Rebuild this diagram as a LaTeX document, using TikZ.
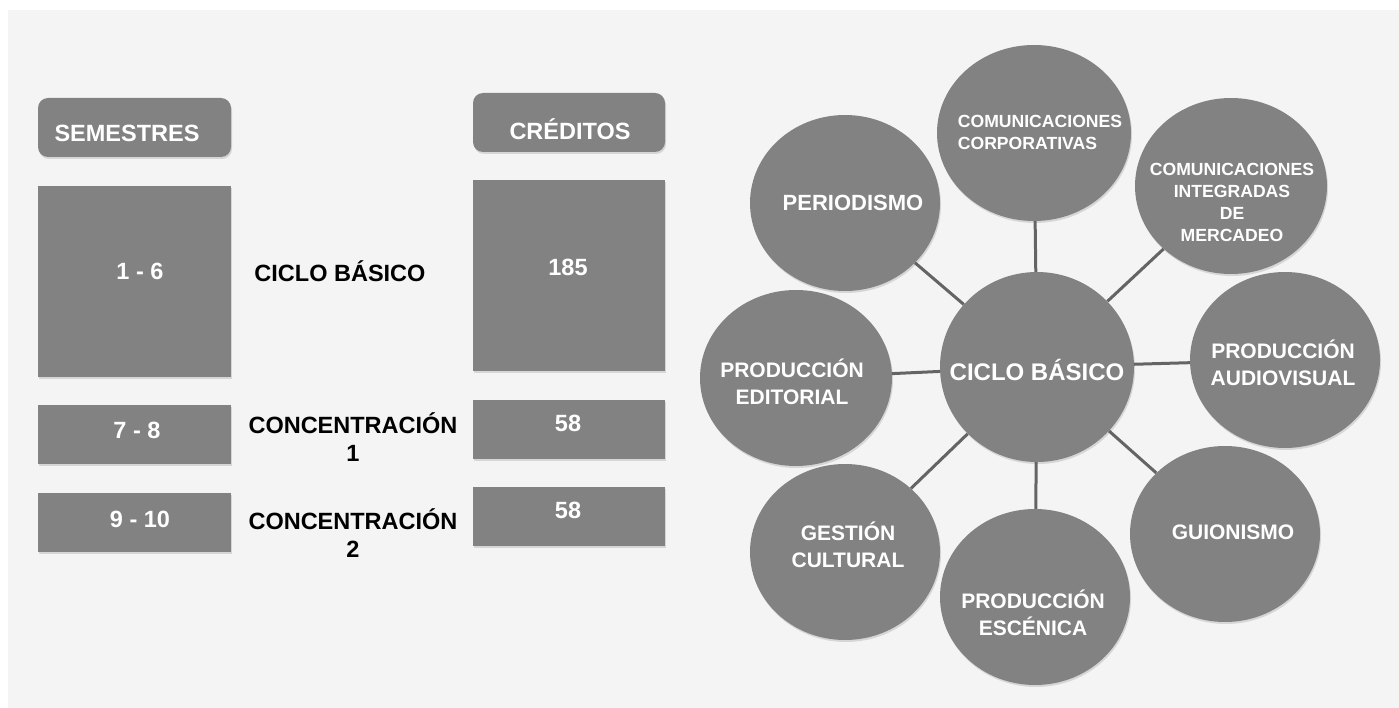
\documentclass[tikz,border=0pt]{standalone}
\usepackage{fontspec}
\setmainfont{Liberation Sans}
\usetikzlibrary{shapes.geometric,shadows}

\definecolor{boxgray}{RGB}{130,130,130}
\definecolor{linkgray}{RGB}{100,100,100}
\definecolor{bggray}{RGB}{244,244,244}

\begin{document}
\begin{tikzpicture}[x=1pt, y=-1pt,
  every node/.style={font=\bfseries},
  softshadow/.style={drop shadow={opacity=0.25, shadow xshift=1pt, shadow yshift=-2pt}},
  cell/.style={fill=boxgray, inner sep=0pt, softshadow, minimum width=193pt},
  head/.style={cell, rounded corners=10pt, minimum height=59pt},
  celltext/.style={text=white, font=\bfseries\fontsize{23.5}{28}\selectfont, align=center},
  sidetext/.style={text=black, font=\bfseries\fontsize{23.5}{28}\selectfont, align=center},
  bubble/.style={ellipse, fill=boxgray, inner sep=0pt, softshadow, minimum width=190pt, minimum height=176pt},
  bubtext/.style={text=white, font=\bfseries\fontsize{21}{27}\selectfont, align=center},
  smalltext/.style={text=white, font=\bfseries\fontsize{17.6}{22}\selectfont},
  link/.style={draw=linkgray, line width=3pt}]
	\useasboundingbox (0,0) rectangle (1399,708);
	\fill[white] (0,0) rectangle (1399,708);
	\fill[bggray] (8,10) rectangle (1399,708);
	% semesters and credits
	\node[head] (sem) at (134.5,127.5) {};
	\node[celltext] (sem-t) at (127,133) {SEMESTRES};
	\node[head, minimum width=192pt] (cred) at (569,122.5) {};
	\node[celltext] (cred-t) at (570,129) {CRÉDITOS};
	\node[cell, minimum height=191pt] (s16) at (134.5,281.5) {};
	\node[celltext] (s16-t) at (140,271) {1 - 6};
	\node[cell, minimum width=192pt, minimum height=191pt] (c185) at (569,275.5) {};
	\node[celltext] (c185-t) at (568,267) {185};
	\node[cell, minimum height=59pt] (s78) at (134.5,434.5) {};
	\node[celltext] (s78-t) at (137,430) {7 - 8};
	\node[cell, minimum width=192pt, minimum height=59pt] (c58a) at (569,429.5) {};
	\node[celltext] (c58a-t) at (568,423) {58};
	\node[cell, minimum height=59pt] (s910) at (134.5,522.5) {};
	\node[celltext] (s910-t) at (140,519) {9 - 10};
	\node[cell, minimum width=192pt, minimum height=59pt] (c58b) at (569,516.5) {};
	\node[celltext] (c58b-t) at (568,510) {58};
	\node[sidetext] (basic) at (340,271) {CICLO BÁSICO};
	\node[sidetext] (conc1) at (353,437) {CONCENTRACIÓN\\1};
	\node[sidetext] (conc2) at (353,533) {CONCENTRACIÓN\\2};
	% concentrations around the basic cycle
	\node[bubble, minimum width=194pt, minimum height=190pt] (cb) at (1037,367) {};
	\node[bubtext, font=\bfseries\fontsize{24}{28}\selectfont] (cb-t) at (1037,370) {CICLO BÁSICO};
	\node[bubble] (peri) at (845,203) {};
	\node[bubtext, font=\bfseries\fontsize{22}{27}\selectfont] (peri-t) at (853,203) {PERIODISMO};
	\node[bubble, minimum width=194pt] (corp) at (1034,133) {};
	\node[smalltext, align=left] (corp-t) at (1040,132) {COMUNICACIONES\\CORPORATIVAS};
	\node[bubble, minimum width=192pt] (integ) at (1231,186) {};
	\node[smalltext, align=center] (integ-t) at (1232,202) {COMUNICACIONES\\INTEGRADAS\\DE\\MERCADEO};
	\node[bubble] (audio) at (1285,360) {};
	\node[bubtext] (audio-t) at (1283,363) {PRODUCCIÓN\\AUDIOVISUAL};
	\node[bubble, minimum width=192pt] (edit) at (796,378) {};
	\node[bubtext] (edit-t) at (792,382) {PRODUCCIÓN\\EDITORIAL};
	\node[bubble] (guion) at (1225,534) {};
	\node[bubtext] (guion-t) at (1233,532) {GUIONISMO};
	\node[bubble] (gest) at (845,552) {};
	\node[bubtext] (gest-t) at (848,545) {GESTIÓN\\CULTURAL};
	\node[bubble] (esc) at (1035,597) {};
	\node[bubtext] (esc-t) at (1033,613) {PRODUCCIÓN\\ESCÉNICA};
	\draw[link] (cb) -- (peri);
	\draw[link] (cb) -- (corp);
	\draw[link] (cb) -- (integ);
	\draw[link] (cb) -- (audio);
	\draw[link] (cb) -- (edit);
	\draw[link] (cb) -- (guion);
	\draw[link] (cb) -- (gest);
	\draw[link] (cb) -- (esc);
\end{tikzpicture}
\end{document}
